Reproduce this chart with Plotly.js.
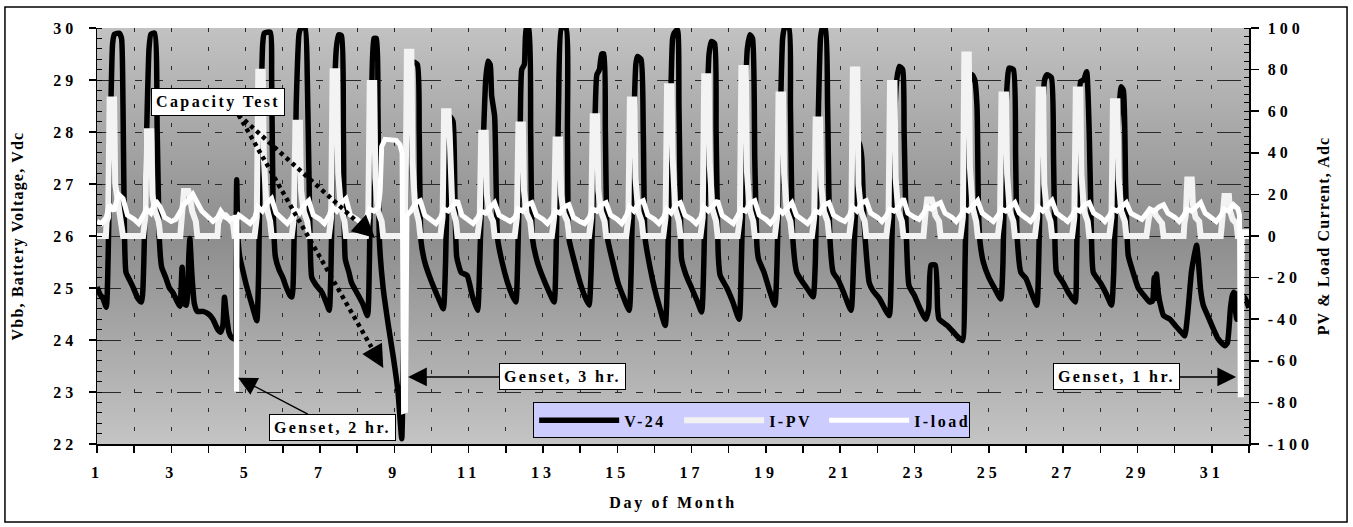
<!DOCTYPE html>
<html><head><meta charset="utf-8">
<script src="https://cdn.plot.ly/plotly-3.0.1.min.js"></script>
<style>
html,body{margin:0;padding:0;background:#fff;}
#chart{width:1353px;height:527px;}
.xtick text,.ytick text,.y2tick text{letter-spacing:4px;}
.xtitle{letter-spacing:2.7px;}
.ytitle,.y2title{letter-spacing:1.2px;}
.legendtext{letter-spacing:2.5px;}
.annotation-text{letter-spacing:2.4px;}
</style></head><body><div id="chart"></div><script>
// ---------- data ----------
const seriesNames = ['V-24', 'I-PV', 'I-load'];
const dayTicks = [1,2,3,4,5,6,7,8,9,10,11,12,13,14,15,16,17,18,19,20,21,22,23,24,25,26,27,28,29,30,31,32];
const dayLabels = ['1','','3','','5','','7','','9','','11','','13','','15','','17','','19','','21','','23','','25','','27','','29','','31',''];
const ampTicks = [-100,-80,-60,-40,-20,0,20,40,60,80,100];
const ampLabels = ['-100','-80','-60','-40','-20','0','20','40','60','80','100'];

// battery voltage [day, Vdc]
const v24Readings = [
[1.00,25.02],[1.08,24.88],[1.16,24.8],[1.25,24.63],[1.30,25.6],[1.36,28.0],[1.42,29.7],[1.47,29.88],[1.60,29.9],[1.66,29.8],[1.70,28.5],[1.74,26.0],[1.78,25.3],[1.88,25.15],[1.98,25.0],[2.10,24.8],[2.20,24.73],
[2.26,25.5],[2.33,27.8],[2.40,29.6],[2.45,29.88],[2.55,29.9],[2.62,28.0],[2.68,25.9],[2.74,25.4],[2.85,25.2],[2.95,25.0],[3.05,24.9],[3.15,24.75],[3.23,24.65],
[3.29,25.4],[3.35,24.7],[3.41,24.67],[3.47,25.6],[3.50,25.95],[3.55,25.3],[3.62,24.7],[3.70,24.55],[3.85,24.55],[4.00,24.5],[4.12,24.4],[4.25,24.2],[4.33,24.15],
[4.39,24.3],[4.43,24.82],[4.48,24.5],[4.55,24.15],[4.62,24.05],[4.70,24.02],[4.735,25.5],[4.76,27.08],[4.79,26.0],[4.84,25.6],[4.92,25.35],[5.02,25.05],[5.12,24.8],[5.22,24.55],[5.30,24.37],
[5.35,25.3],[5.40,28.0],[5.46,29.7],[5.50,29.9],[5.66,29.92],[5.70,29.0],[5.74,26.5],[5.80,25.6],[5.90,25.35],[6.00,25.2],[6.10,25.0],[6.20,24.85],[6.25,24.83],
[6.30,25.8],[6.36,28.5],[6.44,29.9],[6.50,30.0],[6.60,30.0],[6.66,29.0],[6.72,26.5],[6.78,25.2],[6.90,25.05],[7.05,24.92],[7.18,24.7],[7.25,24.57],
[7.30,25.5],[7.36,28.0],[7.44,29.6],[7.50,29.87],[7.58,29.85],[7.63,28.0],[7.68,25.56],[7.78,25.3],[7.85,25.1],[8.00,24.9],[8.15,24.7],[8.28,24.47],
[8.33,25.5],[8.39,28.5],[8.45,29.8],[8.52,29.8],[8.56,28.5],[8.60,25.9],[8.70,25.0],[8.84,24.28],[8.98,23.64],[9.10,23.0],[9.20,22.1],
[9.24,23.5],[9.30,26.0],[9.38,28.5],[9.48,29.35],[9.62,29.3],[9.67,28.0],[9.72,25.9],[9.82,25.5],[9.96,25.2],[10.10,24.95],[10.22,24.75],[10.32,24.6],
[10.38,25.5],[10.44,27.5],[10.50,28.3],[10.58,28.2],[10.63,26.8],[10.68,25.6],[10.80,25.3],[10.96,25.24],[11.10,24.85],[11.24,24.57],
[11.30,25.5],[11.38,27.5],[11.46,29.0],[11.52,29.36],[11.58,29.3],[11.62,28.7],[11.70,28.3],[11.74,27.0],[11.78,25.95],[11.90,25.5],[12.05,25.1],[12.18,24.85],[12.27,24.73],
[12.32,25.5],[12.38,27.5],[12.43,29.2],[12.50,29.3],[12.55,30.0],[12.62,30.0],[12.67,28.0],[12.72,25.95],[12.85,25.5],[13.00,25.2],[13.15,24.95],[13.30,24.73],
[13.35,25.5],[13.42,28.5],[13.50,30.0],[13.62,30.0],[13.66,28.0],[13.70,25.95],[13.85,25.5],[14.00,25.1],[14.12,24.85],[14.24,24.67],
[14.30,25.4],[14.38,27.5],[14.45,29.1],[14.52,29.2],[14.58,29.5],[14.64,29.5],[14.68,28.0],[14.74,25.95],[14.88,25.5],[15.02,25.1],[15.18,24.8],[15.32,24.57],
[15.38,25.5],[15.44,28.0],[15.50,29.3],[15.54,29.45],[15.64,29.4],[15.70,28.0],[15.75,25.95],[15.88,25.4],[16.00,25.0],[16.15,24.6],[16.29,24.28],
[16.36,25.5],[16.42,28.0],[16.49,29.8],[16.53,29.9],[16.62,29.97],[16.66,28.5],[16.70,26.5],[16.73,25.56],[16.85,25.25],[17.00,25.0],[17.15,24.75],[17.27,24.54],
[17.33,25.5],[17.40,28.0],[17.47,29.5],[17.53,29.74],[17.62,29.7],[17.66,28.0],[17.72,25.6],[17.77,25.24],[17.95,25.0],[18.10,24.75],[18.28,24.4],
[18.34,25.5],[18.42,28.0],[18.50,29.6],[18.57,29.87],[18.64,29.8],[18.70,27.5],[18.76,25.8],[18.80,25.56],[18.95,25.3],[19.10,24.95],[19.24,24.67],
[19.30,25.5],[19.38,28.0],[19.45,29.8],[19.50,30.0],[19.62,30.0],[19.66,28.5],[19.72,26.0],[19.83,25.3],[20.00,25.1],[20.15,24.95],[20.27,24.83],
[20.33,25.5],[20.40,28.0],[20.47,29.8],[20.52,30.0],[20.60,30.0],[20.66,28.5],[20.72,26.0],[20.81,25.3],[20.95,25.15],[21.10,24.9],[21.29,24.57],
[21.36,25.5],[21.44,27.0],[21.52,27.8],[21.58,27.5],[21.64,26.3],[21.72,25.5],[21.78,25.1],[21.88,24.95],[22.05,24.8],[22.20,24.6],[22.32,24.47],
[22.38,25.5],[22.45,28.0],[22.52,29.0],[22.59,29.26],[22.68,29.2],[22.72,28.0],[22.78,26.0],[22.85,25.05],[23.00,24.85],[23.15,24.6],[23.30,24.4],
[23.38,24.6],[23.44,25.44],[23.56,25.44],[23.62,24.6],[23.66,24.4],[23.88,24.28],[24.05,24.15],[24.18,24.05],[24.29,23.99],
[24.36,25.5],[24.42,28.0],[24.48,29.0],[24.55,29.1],[24.62,29.0],[24.68,28.5],[24.72,26.5],[24.76,25.9],[24.85,25.5],[25.00,25.2],[25.15,25.0],[25.32,24.79],
[25.38,25.5],[25.44,28.0],[25.50,29.0],[25.54,29.23],[25.66,29.2],[25.72,27.5],[25.76,26.0],[25.86,25.3],[26.00,25.18],[26.15,24.9],[26.29,24.67],
[26.34,25.5],[26.42,28.0],[26.50,29.0],[26.56,29.1],[26.68,29.05],[26.74,27.5],[26.78,25.8],[26.82,25.3],[27.00,25.1],[27.15,24.9],[27.32,24.73],
[27.36,25.5],[27.42,28.2],[27.47,28.97],[27.55,29.0],[27.63,29.16],[27.70,28.0],[27.76,26.0],[27.81,25.3],[28.00,25.1],[28.15,24.9],[28.30,24.67],
[28.36,25.3],[28.44,27.5],[28.52,28.6],[28.56,28.87],[28.62,28.8],[28.68,27.0],[28.75,25.63],[28.88,25.3],[29.02,25.0],[29.18,24.85],[29.33,24.73],
[29.40,24.75],[29.45,25.2],[29.49,24.8],[29.51,25.27],[29.56,24.9],[29.60,24.73],[29.70,24.47],[29.87,24.4],[30.05,24.25],[30.18,24.15],[30.27,24.08],
[30.35,24.5],[30.45,25.3],[30.52,25.6],[30.59,25.82],[30.64,25.5],[30.70,24.95],[30.77,24.67],[30.90,24.45],[31.05,24.2],[31.17,24.02],[31.35,23.89],
[31.42,23.95],[31.50,24.6],[31.55,24.85],[31.59,24.92],[31.63,24.6],[31.67,24.4],[31.71,24.9],[31.76,24.5],[31.85,24.85],[31.93,24.75],[32.00,24.62]
];

// PV current: readings at fixed times of each day (fraction of day), one row per day 1..31
const pvHours = [0.24,0.26,0.30,0.34,0.46,0.49,0.56,0.66,0.70];
const pvRows = [
[0,7,9,65.6,65.6,25,18,7,0],
[0,7,9,50.4,50.4,20,12,7,0],
[0,6,14,21.6,21.6,20,12,7,0],
[0,6,8,10,10,9,8,6,0],
[0,7,9,79,79,37.6,14,7,0],
[0,7,9,54.4,54.4,22,12,7,0],
[0,7,9,79.2,79.2,30,14,7,0],
[0,7,9,73.6,73.6,28,12,7,0],
[0,7,9,88.6,88.6,35,14,7,0],
[0,7,9,60,60,48.8,14,7,0],
[0,7,9,49.6,49.6,20,11,7,0],
[0,7,9,53.6,53.6,22,11,7,0],
[0,7,9,46.4,46.4,20,11,7,0],
[0,7,9,57.6,57.6,22,12,7,0],
[0,7,9,65.6,65.6,28,12,7,0],
[0,7,9,72,72,37.6,13,7,0],
[0,7,9,76.8,76.8,34,13,7,0],
[0,7,9,80.8,80.8,31,13,7,0],
[0,7,9,68,68,30,12,7,0],
[0,7,9,56,56,24,12,7,0],
[0,7,9,80,80,25,12,7,0],
[0,7,9,73.6,73.6,28,12,7,0],
[0,6,12,17.6,17.6,16,10,7,0],
[0,7,9,87.2,87.2,33,14,7,0],
[0,7,9,68,68,30,12,7,0],
[0,7,9,70.4,70.4,25,12,7,0],
[0,7,9,70.4,70.4,30,12,7,0],
[0,7,9,64.8,64.8,28,12,7,0],
[0,6,8,11,12,10,8,6,0],
[0,6,10,27.2,27.2,15,9,7,0],
[0,6,9,19.2,19.2,12,8,6,0]
];

// load current [day, Adc] incl. capacity test and genset charging events
const loadReadings = [
[1.00,7],[1.12,6],[1.25,9],[1.33,15],[1.45,12],[1.58,20],[1.70,18],[1.82,10],
[2.00,8],[2.12,6],[2.25,10],[2.33,13],[2.45,11],[2.58,17],[2.70,14],[2.82,9],
[3.00,7],[3.12,8],[3.25,12],[3.33,15],[3.45,17],[3.58,20],[3.70,16],[3.82,12],
[4.00,9],[4.12,7],[4.25,9],[4.33,12],[4.45,9],[4.58,8],[4.70,9],[4.74,9],[4.755,-74.7],[4.77,8],[4.82,10],
[5.00,8],[5.12,6],[5.25,9],[5.33,14],[5.45,12],[5.58,16],[5.70,18],[5.82,11],
[6.00,8],[6.12,6],[6.25,9],[6.33,13],[6.45,11],[6.58,15],[6.70,17],[6.82,10],
[7.00,8],[7.12,6],[7.25,10],[7.33,14],[7.45,12],[7.58,16],[7.70,18],[7.82,10],
[8.00,8],[8.12,6],[8.25,9],[8.33,13],[8.45,12],[8.58,14],[8.62,22],[8.66,43],[8.75,46.5],[8.90,46.5],[9.05,46],[9.15,44],[9.21,40],[9.25,-84.3],[9.30,-84],[9.34,10],
[9.45,12],[9.58,16],[9.70,17],[9.82,10],
[10.00,8],[10.12,6],[10.25,9],[10.33,13],[10.45,12],[10.58,15],[10.70,17],[10.82,10],
[11.00,8],[11.12,6],[11.25,9],[11.33,12],[11.45,11],[11.58,14],[11.70,16],[11.82,10],
[12.00,8],[12.12,7],[12.25,9],[12.33,13],[12.45,12],[12.58,15],[12.70,16],[12.82,10],
[13.00,8],[13.12,6],[13.25,9],[13.33,12],[13.45,11],[13.58,14],[13.70,15],[13.82,9],
[14.00,7],[14.12,6],[14.25,9],[14.33,13],[14.45,12],[14.58,15],[14.70,16],[14.82,10],
[15.00,8],[15.12,6],[15.25,10],[15.33,14],[15.45,12],[15.58,16],[15.70,17],[15.82,10],
[16.00,8],[16.12,6],[16.25,9],[16.33,13],[16.45,11],[16.58,15],[16.70,16],[16.82,10],
[17.00,8],[17.12,6],[17.25,9],[17.33,14],[17.45,12],[17.58,15],[17.70,17],[17.82,10],
[18.00,8],[18.12,6],[18.25,10],[18.33,13],[18.45,12],[18.58,16],[18.70,17],[18.82,10],
[19.00,8],[19.12,6],[19.25,9],[19.33,13],[19.45,11],[19.58,14],[19.70,16],[19.82,10],
[20.00,8],[20.12,6],[20.25,9],[20.33,12],[20.45,11],[20.58,15],[20.70,16],[20.82,10],
[21.00,8],[21.12,7],[21.25,10],[21.33,14],[21.45,12],[21.58,16],[21.70,17],[21.82,11],
[22.00,9],[22.12,7],[22.25,10],[22.33,13],[22.45,12],[22.58,14],[22.70,18],[22.82,11],
[23.00,9],[23.12,8],[23.25,11],[23.33,14],[23.45,13],[23.58,15],[23.70,16],[23.82,11],
[24.00,9],[24.12,7],[24.25,10],[24.33,13],[24.45,12],[24.58,15],[24.70,17],[24.82,11],
[25.00,9],[25.12,7],[25.25,10],[25.33,13],[25.45,12],[25.58,14],[25.70,16],[25.82,11],
[26.00,9],[26.12,7],[26.25,10],[26.33,14],[26.45,12],[26.58,15],[26.70,17],[26.82,11],
[27.00,9],[27.12,7],[27.25,10],[27.33,13],[27.45,12],[27.58,15],[27.70,16],[27.82,11],
[28.00,9],[28.12,7],[28.25,10],[28.33,13],[28.45,12],[28.58,14],[28.70,16],[28.82,11],
[29.00,9],[29.12,8],[29.25,11],[29.33,13],[29.45,12],[29.58,14],[29.70,15],[29.82,11],
[30.00,9],[30.12,7],[30.25,10],[30.33,13],[30.45,12],[30.58,14],[30.70,16],[30.82,11],
[31.00,9],[31.12,7],[31.25,10],[31.33,13],[31.45,12],[31.58,15],[31.70,13],[31.745,10],[31.765,-76.3],[31.80,-76.3],[31.82,2],[32.00,2]
];

// ---------- build traces ----------
const vDay = v24Readings.map(p => p[0]);
const vVolt = v24Readings.map(p => p[1]);
const pvDay = [1], pvAmp = [0];
pvRows.forEach((row, i) => { row.forEach((a, j) => { pvDay.push(i + 1 + pvHours[j]); pvAmp.push(a); }); });
pvDay.push(32); pvAmp.push(0);
const loadDay = loadReadings.map(p => p[0]);
const loadAmp = loadReadings.map(p => p[1]);

const FONT = 'Liberation Serif, "Times New Roman", serif';
const txt = (s) => ({family: FONT, size: s, color: '#000', weight: 'bold'});

const traces = [
  {x: vDay, y: vVolt, name: seriesNames[0], type: 'scatter', mode: 'lines', yaxis: 'y',
   line: {color: '#000000', width: 5.5, shape: 'spline', smoothing: 0.5}},
  {x: pvDay, y: pvAmp, name: seriesNames[1], type: 'scatter', mode: 'lines', yaxis: 'y2',
   line: {color: '#f3f3f3', width: 6}},
  {x: loadDay, y: loadAmp, name: seriesNames[2], type: 'scatter', mode: 'lines', yaxis: 'y2',
   line: {color: '#ffffff', width: 5}}
];

const grad = "<svg xmlns='http://www.w3.org/2000/svg' width='100' height='100' viewBox='0 0 100 100' preserveAspectRatio='none'>" +
  "<defs><linearGradient id='g' x1='0' y1='0' x2='0' y2='1'>" +
  "<stop offset='0' stop-color='#c2c2c2'/><stop offset='0.5' stop-color='#8d8d8d'/><stop offset='1' stop-color='#c4c4c4'/>" +
  "</linearGradient></defs><rect width='100' height='100' fill='url(#g)'/></svg>";
const gradSrc = 'data:image/svg+xml;charset=utf-8,' + encodeURIComponent(grad);

const annBox = {bgcolor: '#ffffff', bordercolor: '#000000', borderwidth: 1, borderpad: 4, font: txt(16)};

const layout = {
  width: 1353, height: 527,
  margin: {l: 97, r: 104, t: 28, b: 83},
  paper_bgcolor: '#ffffff', plot_bgcolor: '#a4a4a4',
  font: txt(16),
  showlegend: true,
  images: [{source: gradSrc, xref: 'paper', yref: 'paper', x: 0, y: 1, sizex: 1, sizey: 1,
            xanchor: 'left', yanchor: 'top', sizing: 'stretch', layer: 'below'}],
  xaxis: {range: [1, 32], tickmode: 'array', tickvals: dayTicks, ticktext: dayLabels,
          showgrid: true, gridcolor: '#2a2a2a', gridwidth: 1, griddash: '4px,15px',
          showline: true, linecolor: '#000', linewidth: 1.5, zeroline: false,
          ticks: 'outside', ticklen: 7, tickwidth: 1.5, tickcolor: '#000',
          tickfont: txt(16), ticklabelstandoff: 6,
          title: {text: 'Day of Month', font: txt(16), standoff: 17}},
  yaxis: {range: [22, 30], tick0: 22, dtick: 1,
          showgrid: true, gridcolor: '#2a2a2a', gridwidth: 1, griddash: '24px,14px,7px,14px,7px,14px',
          showline: true, linecolor: '#000', linewidth: 1.5, zeroline: false,
          ticks: 'outside', ticklen: 7, tickwidth: 1.5, tickcolor: '#000',
          minor: {dtick: 0.2, tick0: 22, ticks: 'inside', ticklen: 5, tickwidth: 1, tickcolor: '#000', showgrid: false},
          tickfont: txt(16), ticklabelstandoff: 8,
          title: {text: 'Vbb, Battery Voltage, Vdc', font: txt(16), standoff: 25}},
  yaxis2: {overlaying: 'y', side: 'right', anchor: 'x', range: [-100, 100],
           tickmode: 'array', tickvals: ampTicks, ticktext: ampLabels,
           showgrid: false, zeroline: false,
           showline: true, linecolor: '#000', linewidth: 1.5,
           ticks: 'outside', ticklen: 8, tickwidth: 1.5, tickcolor: '#000',
           minor: {tickmode: 'linear', tick0: 0, dtick: 4, ticks: 'inside', ticklen: 5, tickwidth: 1, tickcolor: '#000', showgrid: false},
           tickfont: txt(16), ticklabelstandoff: 6,
           title: {text: 'PV & Load Current, Adc', font: txt(16), standoff: 6}},
  legend: {orientation: 'h', x: 0.3786, xanchor: 'left', y: 0.1, yanchor: 'top',
           bgcolor: '#ccccff', bordercolor: '#000000', borderwidth: 1,
           font: txt(16), itemwidth: 80, entrywidth: 50, entrywidthmode: 'pixels', tracegroupgap: 0},
  shapes: [
    {type: 'rect', xref: 'paper', yref: 'paper', x0: -0.0799, x1: 1.0851, y0: -0.1875, y1: 1.0505,
     line: {color: '#000', width: 1.5}, fillcolor: 'rgba(0,0,0,0)', layer: 'above'},
    {type: 'line', xref: 'x', yref: 'y', x0: 4.81, y0: 28.33, x1: 8.003, y1: 26.271,
     line: {color: '#000', width: 4.5, dash: '4px,4px'}},
    {type: 'line', xref: 'x', yref: 'y', x0: 4.81, y0: 28.33, x1: 8.385, y1: 23.862,
     line: {color: '#000', width: 4.5, dash: '4px,4px'}}
  ],
  annotations: [
    Object.assign({text: 'Capacity Test', x: 4.261, y: 28.583, xref: 'x', yref: 'y', showarrow: false}, annBox),
    {text: '', x: 8.48, y: 25.96, xref: 'x', yref: 'y', axref: 'x', ayref: 'y', ax: 8.003, ay: 26.271,
     showarrow: true, arrowhead: 2, arrowsize: 1.5, arrowwidth: 3, arrowcolor: '#000', standoff: 0},
    {text: '', x: 8.704, y: 23.462, xref: 'x', yref: 'y', axref: 'x', ayref: 'y', ax: 8.385, ay: 23.862,
     showarrow: true, arrowhead: 2, arrowsize: 1.5, arrowwidth: 3, arrowcolor: '#000', standoff: 0},
    Object.assign({text: 'Genset, 2 hr.', x: 4.798, y: 23.275, xref: 'x', yref: 'y', axref: 'x', ayref: 'y', ax: 7.339, ay: 22.323,
     showarrow: true, arrowhead: 2, arrowsize: 2.5, arrowwidth: 1.5, arrowcolor: '#000', standoff: 0}, annBox),
    Object.assign({text: 'Genset, 3 hr.', x: 9.371, y: 23.29, xref: 'x', yref: 'y', axref: 'x', ayref: 'y', ax: 13.522, ay: 23.29,
     showarrow: true, arrowhead: 2, arrowsize: 2.5, arrowwidth: 1.5, arrowcolor: '#000', standoff: 0}, annBox),
    Object.assign({text: 'Genset, 1 hr.', x: 31.653, y: 23.29, xref: 'x', yref: 'y', axref: 'x', ayref: 'y', ax: 28.427, ay: 23.29,
     showarrow: true, arrowhead: 2, arrowsize: 2.5, arrowwidth: 1.5, arrowcolor: '#000', standoff: 0}, annBox)
  ]
};

Plotly.newPlot('chart', traces, layout, {displayModeBar: false, staticPlot: true});
</script></body></html>
